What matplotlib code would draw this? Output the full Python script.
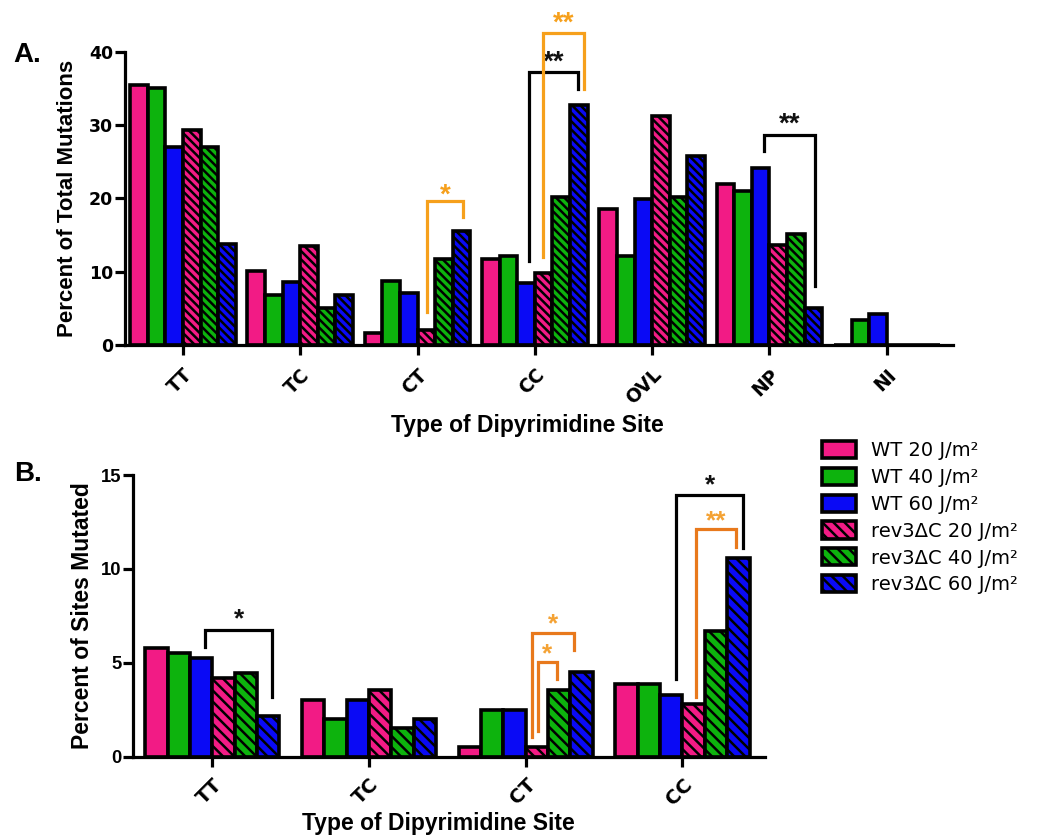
import matplotlib
matplotlib.use("Agg")
import matplotlib.pyplot as plt
from matplotlib.patches import Patch
import numpy as np

# ---------------- data ----------------
series_labels = ["WT 20 J/m²", "WT 40 J/m²", "WT 60 J/m²",
                 "rev3ΔC 20 J/m²", "rev3ΔC 40 J/m²", "rev3ΔC 60 J/m²"]

categories_A = ["TT", "TC", "CT", "CC", "OVL", "NP", "NI"]
wt20_A = [35.5, 10.1, 1.7, 11.8, 18.5, 22.0, 0.0]
wt40_A = [35.0, 6.8, 8.7, 12.2, 12.2, 21.0, 3.4]
wt60_A = [27.0, 8.6, 7.1, 8.5, 19.9, 24.2, 4.2]
rev20_A = [29.3, 13.5, 2.0, 9.8, 31.3, 13.6, 0.0]
rev40_A = [27.0, 5.0, 11.8, 20.2, 20.2, 15.2, 0.0]
rev60_A = [13.8, 6.8, 15.5, 32.7, 25.8, 5.1, 0.0]
yticks_A = [0, 10, 20, 30, 40]

categories_B = ["TT", "TC", "CT", "CC"]
wt20_B = [5.80, 3.01, 0.50, 3.88]
wt40_B = [5.52, 2.02, 2.51, 3.88]
wt60_B = [5.24, 3.01, 2.51, 3.31]
rev20_B = [4.18, 3.54, 0.50, 2.78]
rev40_B = [4.44, 1.50, 3.54, 6.67]
rev60_B = [2.19, 2.02, 4.53, 10.58]
yticks_B = [0, 5, 10, 15]

# significance brackets: (category, left offset, right offset, top, left foot, right foot, label, colour key, star y)
brackets_A = [
    (2, 0.08, 0.39, 19.6, 4.5, 17.4, "*", "orange", 21.1),
    (3, -0.049, 0.364, 37.2, 11.4, 34.9, "**", "black", 39.2),
    (3, 0.066, 0.418, 42.5, 12.0, 34.9, "**", "orange", 44.5),
    (5, -0.043, 0.386, 28.6, 26.4, 8.0, "**", "black", 30.7),
]
brackets_B = [
    (0, -0.047, 0.383, 6.73, 5.84, 3.19, "*", "black", 7.52),
    (2, 0.042, 0.308, 6.60, 1.06, 5.66, "*", "orange", 7.26),
    (2, 0.078, 0.200, 5.04, 1.38, 4.12, "*", "orange", 5.66),
    (3, -0.040, 0.389, 13.93, 4.12, 11.10, "*", "black", 14.70),
    (3, 0.086, 0.340, 12.12, 3.19, 11.19, "**", "orange", 12.74),
]

# ---------------- style ----------------
colors = ["#F21B85", "#0DB30D", "#0A0AF5"] * 2
hatches_flag = [False, False, False, True, True, True]
plt.rcParams["hatch.linewidth"] = 1.8
plt.rcParams["font.family"] = ["Liberation Sans", "DejaVu Sans"]

fig = plt.figure(figsize=(10.39, 8.36), dpi=100)

axA = fig.add_axes([0.1203, 0.5873, 0.7969, 0.3508])
axB = fig.add_axes([0.1283, 0.0949, 0.6080, 0.3369])


def draw_panel(ax, cats, series, group_w, hatch, ylim, yticks, xlim, brackets,
               br_colors, star_colors, star_fs, ytick_font, ytick_fs, xtick_fs, xpad):
    x = np.arange(len(cats))
    w = group_w / len(series)
    for i, vals in enumerate(series):
        ax.bar(x + (i - 2.5) * w, vals, width=w, color=colors[i], edgecolor="black",
               linewidth=2.6, hatch=hatch if hatches_flag[i] else None, zorder=2)
    ax.set_xlim(*xlim)
    ax.set_ylim(*ylim)
    ax.set_yticks(yticks)
    ax.set_yticklabels([str(t) for t in yticks], fontfamily=ytick_font,
                       fontweight="bold", fontsize=ytick_fs)
    ax.set_xticks(x)
    ax.set_xticklabels(cats, rotation=45, ha="right", va="top",
                       rotation_mode="anchor", fontfamily="DejaVu Sans",
                       fontweight="bold", fontsize=xtick_fs)
    for s in ["top", "right"]:
        ax.spines[s].set_visible(False)
    for s in ["left", "bottom"]:
        ax.spines[s].set_linewidth(2.3)
    ax.tick_params(axis="y", direction="out", length=7, width=2.3, pad=1.5)
    ax.tick_params(axis="x", direction="out", length=7, width=2.3, pad=xpad)
    for (c, lo, ro, top, lf, rf, lab, ck, sy) in brackets:
        xl, xr = c + lo, c + ro
        ax.plot([xl, xl, xr, xr], [lf, top, top, rf], color=br_colors[ck], lw=2.3,
                clip_on=False, solid_joinstyle="miter", zorder=3)
        ax.annotate(lab, xy=((xl + xr) / 2, sy), xytext=(0, -0.43 * star_fs),
                    textcoords="offset points", ha="center", va="baseline",
                    fontsize=star_fs, fontweight="bold", color=star_colors[ck],
                    annotation_clip=False)


series_A = [wt20_A, wt40_A, wt60_A, rev20_A, rev40_A, rev60_A]
series_B = [wt20_B, wt40_B, wt60_B, rev20_B, rev40_B, rev60_B]

draw_panel(axA, categories_A, series_A, 0.9, "\\\\\\\\", (0, 40), yticks_A, (-0.494, 6.564),
           brackets_A, {"black": "black", "orange": "#F6A01C"},
           {"black": "#111111", "orange": "#F6A01C"}, 20,
           "DejaVu Sans", 12.5, 13.5, 7.5)
draw_panel(axB, categories_B, series_B, 0.857, "\\\\\\", (0, 15), yticks_B, (-0.504, 3.527),
           brackets_B, {"black": "black", "orange": "#E8791C"},
           {"black": "#111111", "orange": "#F4A234"}, 19,
           "Liberation Sans", 13.3, 14, 6)

axA.set_ylabel("Percent of Total Mutations", fontsize=16, fontweight="bold")
axA.yaxis.set_label_coords(-0.0568, 0.5)
axA.set_xlabel("Type of Dipyrimidine Site", fontsize=16.5, fontweight="bold")
axA.xaxis.set_label_coords(0.486, -0.236)

axB.set_ylabel("Percent of Sites Mutated", fontsize=16.5, fontweight="bold")
axB.yaxis.set_label_coords(-0.062, 0.5)
axB.set_xlabel("Type of Dipyrimidine Site", fontsize=16.5, fontweight="bold")
axB.xaxis.set_label_coords(0.483, -0.195)

fig.text(13 / 1039, 1 - 62 / 836, "A.", fontsize=20, fontweight="bold", va="baseline")
fig.text(14 / 1039, 1 - 481 / 836, "B.", fontsize=20, fontweight="bold", va="baseline")

handles = [Patch(facecolor=colors[i], edgecolor="black", linewidth=2.6,
                 hatch="\\\\\\" if hatches_flag[i] else None) for i in range(6)]
fig.legend(handles, series_labels, loc="upper left", bbox_to_anchor=(822 / 1039, 1 - 441 / 836),
           frameon=False, prop={"family": "DejaVu Sans", "size": 14},
           handlelength=1.75, handleheight=0.98, handletextpad=0.77,
           labelspacing=0.39, borderpad=0, borderaxespad=0)

fig.savefig("out.png", dpi=100)
